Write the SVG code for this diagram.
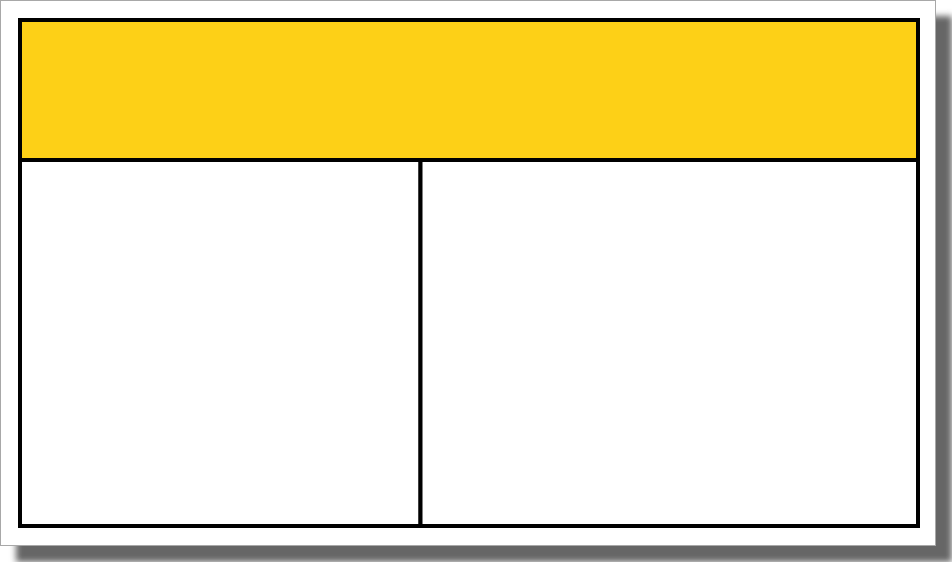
<svg xmlns="http://www.w3.org/2000/svg" width="952" height="562" viewBox="0 0 952 562">
  <defs>
    <filter id="blur" x="-5%" y="-5%" width="110%" height="110%">
      <feGaussianBlur stdDeviation="3"/>
    </filter>
    <style>
      .cell { stroke: #000; stroke-width: 4; }
    </style>
  </defs>
  <g id="page">
    <rect x="16" y="16" width="936" height="546" fill="#666666" filter="url(#blur)"/>
    <rect x="0.5" y="0.5" width="935" height="545" fill="#ffffff" stroke="#a8a8a8" stroke-width="1"/>
  </g>
  <g id="header">
    <rect class="cell" x="20" y="20" width="898" height="140" fill="#FDD017"/>
  </g>
  <g id="left-cell">
    <rect class="cell" x="20" y="160" width="400.5" height="366" fill="#ffffff"/>
  </g>
  <g id="right-cell">
    <rect class="cell" x="420.5" y="160" width="497.5" height="366" fill="#ffffff"/>
  </g>
</svg>
